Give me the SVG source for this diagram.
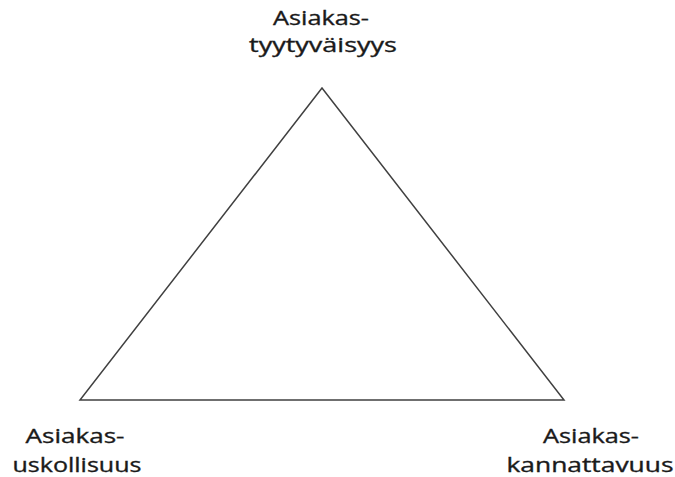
<svg xmlns="http://www.w3.org/2000/svg" width="675" height="477" viewBox="0 0 675 477">
<style>
.lbl{font-family:"Open Sans","Noto Sans","Liberation Sans",sans-serif;font-size:20px;fill:#1a1a1a;stroke:#1a1a1a;stroke-width:0.35;text-anchor:middle}
.edge{stroke:#404040;stroke-width:1.5;fill:none}
</style>
<rect width="675" height="477" fill="#ffffff"/>
<g id="connectors">
<polygon class="edge" points="322,88 80,400 564,400"/>
</g>
<g id="node-tyytyvaisyys">
<text class="lbl" x="321" y="25" textLength="96" lengthAdjust="spacingAndGlyphs">Asiakas-</text>
<text class="lbl" x="323" y="52" textLength="148" lengthAdjust="spacingAndGlyphs">tyytyväisyys</text>
</g>
<g id="node-uskollisuus">
<text class="lbl" x="75" y="443" textLength="99" lengthAdjust="spacingAndGlyphs">Asiakas-</text>
<text class="lbl" x="77" y="472" textLength="129" lengthAdjust="spacingAndGlyphs">uskollisuus</text>
</g>
<g id="node-kannattavuus">
<text class="lbl" x="591" y="443" textLength="96" lengthAdjust="spacingAndGlyphs">Asiakas-</text>
<text class="lbl" x="590" y="472" textLength="167" lengthAdjust="spacingAndGlyphs">kannattavuus</text>
</g>
</svg>
